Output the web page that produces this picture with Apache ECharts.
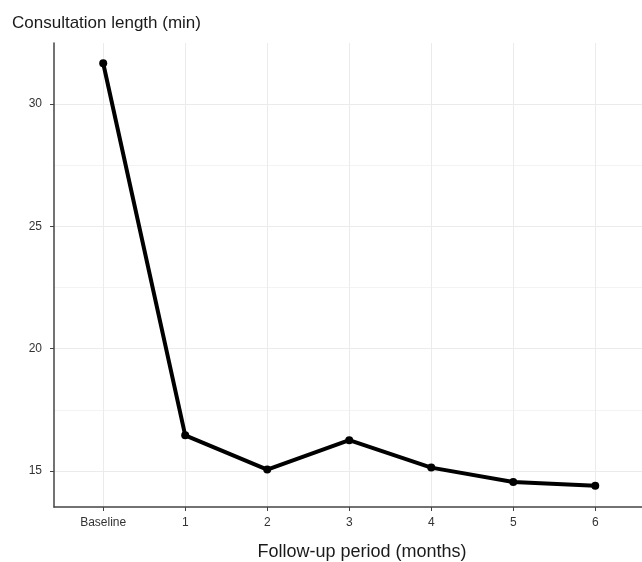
<!DOCTYPE html>
<html>
<head>
<meta charset="utf-8">
<script src="https://cdn.jsdelivr.net/npm/echarts@6/dist/echarts.min.js"></script>
<style>
  html, body { margin: 0; padding: 0; background: #fff; }
  #chart { width: 642px; height: 562px; }
</style>
</head>
<body>
<div id="chart"></div>
<script>
const categories = ["Baseline", "1", "2", "3", "4", "5", "6"]
const consultLength = [31.67, 16.46, 15.06, 16.26, 15.14, 14.55, 14.4]
const yTicks = [15, 20, 25, 30]
const yMinorTicks = [17.5, 22.5, 27.5]

const catIdx = categories.map((c, i) => i)
const font = "Liberation Sans, Arial, sans-serif"

const chart = echarts.init(document.getElementById("chart"))
chart.setOption({
  animation: false,
  title: [
    {
      text: "Consultation length (min)",
      left: 7,
      top: 10,
      textStyle: {fontFamily: font, fontSize: 17, fontWeight: "normal", color: "#1a1a1a"}
    },
    {
      text: "Follow-up period (months)",
      left: 357,
      top: 538,
      textAlign: "center",
      textStyle: {fontFamily: font, fontSize: 18, fontWeight: "normal", color: "#1a1a1a"}
    }
  ],
  grid: {left: 54, right: 0, top: 43, bottom: 55, containLabel: false},
  xAxis: {
    type: "value",
    min: -0.6,
    max: 6.57,
    axisLine: {show: true, onZero: false, lineStyle: {color: "#444", width: 1.5}},
    axisTick: {show: true, customValues: catIdx, length: 4, lineStyle: {color: "#444"}},
    axisLabel: {
      customValues: catIdx,
      margin: 10,
      fontFamily: font,
      fontSize: 12,
      color: "#333",
      formatter: v => categories[Math.round(v)]
    },
    splitLine: {show: true, lineStyle: {color: "#ebebeb", width: 1}}
  },
  yAxis: [
    {
      type: "value",
      min: 13.53,
      max: 32.5,
      axisLine: {show: true, onZero: false, lineStyle: {color: "#444", width: 1.5}},
      axisTick: {show: true, customValues: yTicks, length: 4, lineStyle: {color: "#444"}},
      axisLabel: {customValues: yTicks, margin: 12, fontFamily: font, fontSize: 12, color: "#333"},
      splitLine: {show: true, lineStyle: {color: "#ebebeb", width: 1}}
    },
    {
      type: "value",
      min: 13.53,
      max: 32.5,
      position: "left",
      axisLine: {show: false, onZero: false},
      axisTick: {show: false, customValues: yMinorTicks},
      axisLabel: {show: false, customValues: yMinorTicks},
      splitLine: {show: true, lineStyle: {color: "#f3f3f3", width: 1}}
    }
  ],
  series: [
    {
      type: "line",
      data: consultLength.map((v, i) => [catIdx[i], v]),
      symbol: "circle",
      symbolSize: 8,
      lineStyle: {color: "#000", width: 4},
      itemStyle: {color: "#000"},
      z: 5
    }
  ]
})
</script>
</body>
</html>
